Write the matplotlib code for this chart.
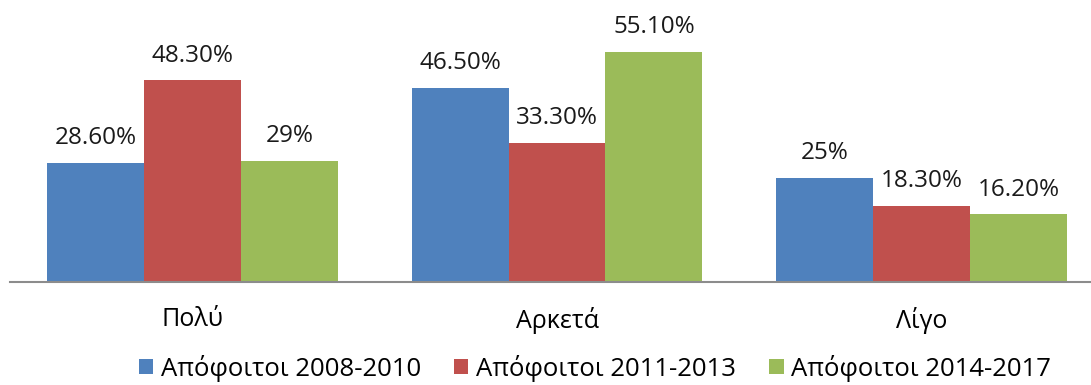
import matplotlib.pyplot as plt
import numpy as np

plt.rcParams['font.family'] = ['Open Sans', 'DejaVu Sans']

categories = ['Πολύ', 'Αρκετά', 'Λίγο']
series = ['Απόφοιτοι 2008-2010', 'Απόφοιτοι 2011-2013', 'Απόφοιτοι 2014-2017']
values = [
    [28.6, 46.5, 25.0],
    [48.3, 33.3, 18.3],
    [29.0, 55.1, 16.2],
]
labels = [
    ['28.60%', '46.50%', '25%'],
    ['48.30%', '33.30%', '18.30%'],
    ['29%', '55.10%', '16.20%'],
]
colors = ['#4F81BD', '#C0504D', '#9BBB59']

fig = plt.figure(figsize=(10.91, 3.85), dpi=100)
ax = fig.add_axes([10 / 1091, 103 / 385, 1081 / 1091, 282 / 385])

x = np.arange(len(categories))
w = 0.266
for i in range(len(series)):
    pos = x + (i - 1) * w
    bars = ax.bar(pos, values[i], w, color=colors[i], label=series[i])
    for b, v, t in zip(bars, values[i], labels[i]):
        ax.annotate(t, (b.get_x() + b.get_width() / 2, v), xytext=(0, 9),
                    textcoords='offset points', ha='center', va='bottom',
                    fontsize=17.5, color='#1a1a1a')

ax.set_xlim(-0.5007, 2.465)
ax.set_ylim(0, 67.5)
ax.set_yticks([])
ax.set_xticks(x)
ax.set_xticklabels(categories, fontsize=18)
ax.tick_params(axis='x', length=0, pad=18)
for s in ['top', 'right', 'left']:
    ax.spines[s].set_visible(False)
ax.spines['bottom'].set_color('#8c8c8c')
ax.spines['bottom'].set_linewidth(1.5)

fig.legend(loc='center', bbox_to_anchor=(595 / 1091, 1 - 368 / 385), ncol=3,
           frameon=False, fontsize=18.5, handlelength=0.55, handleheight=0.55,
           handletextpad=0.3, columnspacing=1.3, borderpad=0)

fig.savefig('out.png', dpi=100)
